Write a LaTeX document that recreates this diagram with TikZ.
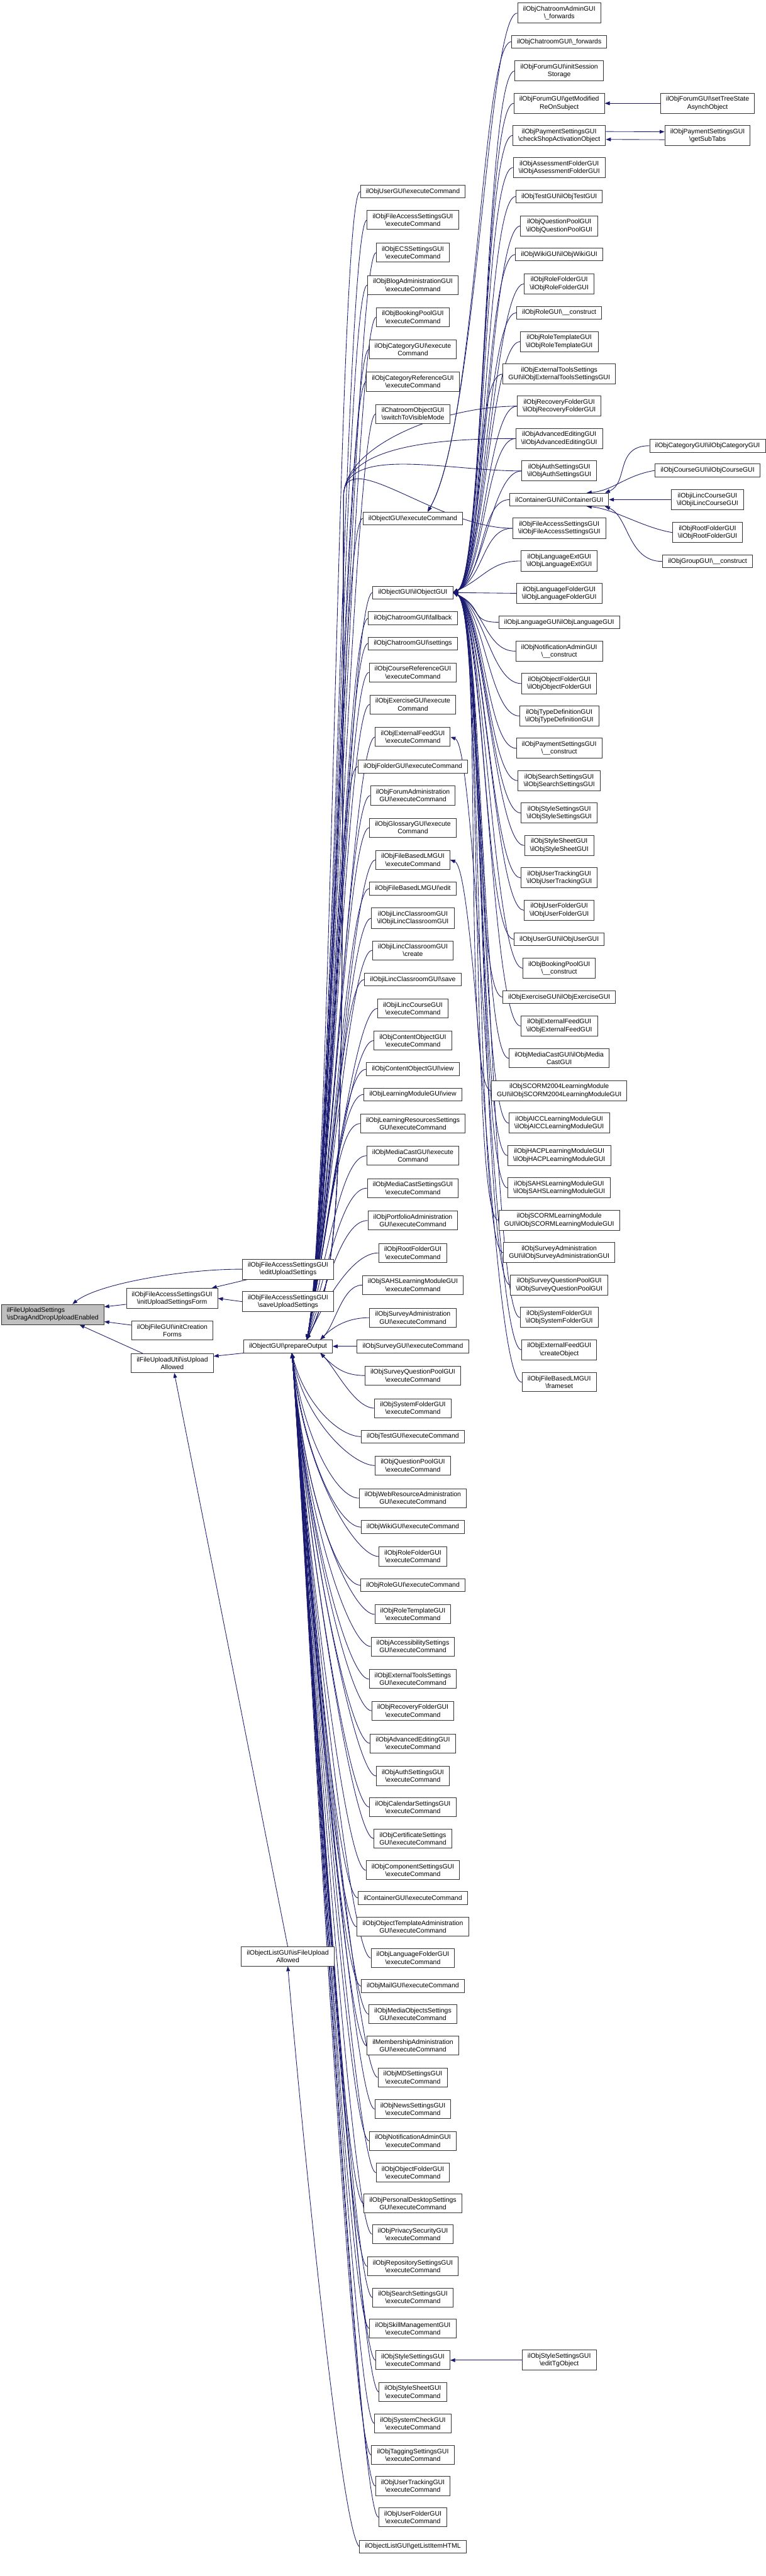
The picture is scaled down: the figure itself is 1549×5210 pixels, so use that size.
\documentclass[tikz,border=0pt]{standalone}
\usepackage{fontspec}
\setmainfont{Liberation Sans}
\usetikzlibrary{arrows.meta,calc}
\definecolor{eblue}{HTML}{191970}
\newcommand\BS{\textbackslash}
\newcommand\NN[4]{\node[nd] (#1) at (#2,-#3) {#4};}
\pgfdeclarelayer{bg}
\pgfsetlayers{bg,main}
\begin{document}
\begin{tikzpicture}[x=1pt,y=1pt,
  nd/.style={draw=black!80, fill=white, line width=1.2pt, align=center,
    font=\fontsize{13.3}{15.5}\selectfont, inner xsep=11pt, inner ysep=6.5pt, minimum height=26pt},
  tgt/.style={nd, fill=black!25, align=left},
  edge/.style={draw=eblue, line width=1.1pt, -{Triangle[length=10pt,width=7.5pt]}}]
\useasboundingbox (0,0) rectangle (1549,-5210);
% column 1
\node[tgt] (dd) at (106.5,-2658.5) {ilFileUploadSettings\\\BS isDragAndDropUploadEnabled};
% column 2
\NN{iu}{348}{2626}{ilObjFileAccessSettingsGUI\\\BS initUploadSettingsForm}
\NN{ic}{348.5}{2691}{ilObjFileGUI\BS initCreation\\Forms}
\NN{ua}{348.5}{2757}{ilFileUploadUtil\BS isUpload\\Allowed}
% column 3
\NN{eu}{582.5}{2567}{ilObjFileAccessSettingsGUI\\\BS editUploadSettings}
\NN{su}{582.5}{2632.5}{ilObjFileAccessSettingsGUI\\\BS saveUploadSettings}
\NN{po}{582.5}{2723}{ilObjectGUI\BS prepareOutput}
\NN{lf}{582}{3957}{ilObjectListGUI\BS isFileUpload\\Allowed}
% column 4
\NN{a01}{835}{387.5}{ilObjUserGUI\BS executeCommand}
\NN{a02}{835}{445}{ilObjFileAccessSettingsGUI\\\BS executeCommand}
\NN{a03}{835}{511}{ilObjECSSettingsGUI\\\BS executeCommand}
\NN{a04}{835}{576.5}{ilObjBlogAdministrationGUI\\\BS executeCommand}
\NN{a05}{835}{641.5}{ilObjBookingPoolGUI\\\BS executeCommand}
\NN{a06}{835}{706.5}{ilObjCategoryGUI\BS execute\\Command}
\NN{a07}{835}{772}{ilObjCategoryReferenceGUI\\\BS executeCommand}
\NN{a08}{835}{837}{ilChatroomObjectGUI\\\BS switchToVisibleMode}
\NN{a09}{835}{1048.5}{ilObjectGUI\BS executeCommand}
\NN{a10}{835}{1198.5}{ilObjectGUI\BS ilObjectGUI}
\NN{a11}{835}{1250.5}{ilObjChatroomGUI\BS fallback}
\NN{a12}{835}{1301.5}{ilObjChatroomGUI\BS settings}
\NN{a13}{835}{1360}{ilObjCourseReferenceGUI\\\BS executeCommand}
\NN{a14}{835}{1425}{ilObjExerciseGUI\BS execute\\Command}
\NN{a15}{835}{1490.5}{ilObjExternalFeedGUI\\\BS executeCommand}
\NN{a16}{835}{1550.5}{ilObjFolderGUI\BS executeCommand}
\NN{a17}{835}{1609}{ilObjForumAdministration\\GUI\BS executeCommand}
\NN{a18}{835}{1674}{ilObjGlossaryGUI\BS execute\\Command}
\NN{a19}{835}{1739}{ilObjFileBasedLMGUI\\\BS executeCommand}
\NN{a20}{835}{1797}{ilObjFileBasedLMGUI\BS edit}
\NN{a21}{835}{1857}{ilObjiLincClassroomGUI\\\BS ilObjiLincClassroomGUI}
\NN{a22}{835}{1922}{ilObjiLincClassroomGUI\\\BS create}
\NN{a23}{835}{1981}{ilObjiLincClassroomGUI\BS save}
\NN{a24}{835}{2039.5}{ilObjiLincCourseGUI\\\BS executeCommand}
\NN{a25}{835}{2104.5}{ilObjContentObjectGUI\\\BS executeCommand}
\NN{a26}{835}{2162.5}{ilObjContentObjectGUI\BS view}
\NN{a27}{835}{2213.5}{ilObjLearningModuleGUI\BS view}
\NN{a28}{835}{2272.5}{ilObjLearningResourcesSettings\\GUI\BS executeCommand}
\NN{a29}{835}{2337.5}{ilObjMediaCastGUI\BS execute\\Command}
\NN{a30}{835}{2403}{ilObjMediaCastSettingsGUI\\\BS executeCommand}
\NN{a31}{835}{2468.5}{ilObjPortfolioAdministration\\GUI\BS executeCommand}
\NN{a32}{835}{2534}{ilObjRootFolderGUI\\\BS executeCommand}
\NN{a33}{835}{2599}{ilObjSAHSLearningModuleGUI\\\BS executeCommand}
\NN{a34}{835}{2665}{ilObjSurveyAdministration\\GUI\BS executeCommand}
\NN{a35}{835}{2723}{ilObjSurveyGUI\BS executeCommand}
\NN{a36}{835}{2782}{ilObjSurveyQuestionPoolGUI\\\BS executeCommand}
\NN{a37}{835}{2848}{ilObjSystemFolderGUI\\\BS executeCommand}
\NN{a38}{835}{2905.5}{ilObjTestGUI\BS executeCommand}
\NN{a39}{835}{2964}{ilObjQuestionPoolGUI\\\BS executeCommand}
\NN{a40}{835}{3030}{ilObjWebResourceAdministration\\GUI\BS executeCommand}
\NN{a41}{835}{3088.5}{ilObjWikiGUI\BS executeCommand}
\NN{a42}{835}{3148}{ilObjRoleFolderGUI\\\BS executeCommand}
\NN{a43}{835}{3206}{ilObjRoleGUI\BS executeCommand}
\NN{a44}{835}{3265}{ilObjRoleTemplateGUI\\\BS executeCommand}
\NN{a45}{835}{3330}{ilObjAccessibilitySettings\\GUI\BS executeCommand}
\NN{a46}{835}{3396}{ilObjExternalToolsSettings\\GUI\BS executeCommand}
\NN{a47}{835}{3460}{ilObjRecoveryFolderGUI\\\BS executeCommand}
\NN{a48}{835}{3526}{ilObjAdvancedEditingGUI\\\BS executeCommand}
\NN{a49}{835}{3592}{ilObjAuthSettingsGUI\\\BS executeCommand}
\NN{a50}{835}{3655}{ilObjCalendarSettingsGUI\\\BS executeCommand}
\NN{a51}{835}{3718.5}{ilObjCertificateSettings\\GUI\BS executeCommand}
\NN{a52}{835}{3782.5}{ilObjComponentSettingsGUI\\\BS executeCommand}
\NN{a53}{835}{3838.5}{ilContainerGUI\BS executeCommand}
\NN{a54}{835}{3897}{ilObjObjectTemplateAdministration\\GUI\BS executeCommand}
\NN{a55}{835}{3960}{ilObjLanguageFolderGUI\\\BS executeCommand}
\NN{a56}{835}{4017}{ilObjMailGUI\BS executeCommand}
\NN{a57}{835}{4073.5}{ilObjMediaObjectsSettings\\GUI\BS executeCommand}
\NN{a58}{835}{4137.5}{ilMembershipAdministration\\GUI\BS executeCommand}
\NN{a59}{835}{4201.5}{ilObjMDSettingsGUI\\\BS executeCommand}
\NN{a60}{835}{4265.5}{ilObjNewsSettingsGUI\\\BS executeCommand}
\NN{a61}{835}{4330}{ilObjNotificationAdminGUI\\\BS executeCommand}
\NN{a62}{835}{4394}{ilObjObjectFolderGUI\\\BS executeCommand}
\NN{a63}{835}{4456.5}{ilObjPersonalDesktopSettings\\GUI\BS executeCommand}
\NN{a64}{835}{4518.5}{ilObjPrivacySecurityGUI\\\BS executeCommand}
\NN{a65}{835}{4583.5}{ilObjRepositorySettingsGUI\\\BS executeCommand}
\NN{a66}{835}{4646.5}{ilObjSearchSettingsGUI\\\BS executeCommand}
\NN{a67}{835}{4709.5}{ilObjSkillManagementGUI\\\BS executeCommand}
\NN{a68}{835}{4773.5}{ilObjStyleSettingsGUI\\\BS executeCommand}
\NN{a69}{835}{4837.5}{ilObjStyleSheetGUI\\\BS executeCommand}
\NN{a70}{835}{4901.5}{ilObjSystemCheckGUI\\\BS executeCommand}
\NN{a71}{835}{4965.5}{ilObjTaggingSettingsGUI\\\BS executeCommand}
\NN{a72}{835}{5028}{ilObjUserTrackingGUI\\\BS executeCommand}
\NN{a73}{835}{5091}{ilObjUserFolderGUI\\\BS executeCommand}
\NN{a74}{835}{5150.5}{ilObjectListGUI\BS getListItemHTML}
% column 5
\NN{b01}{1131}{26.5}{ilObjChatroomAdminGUI\\\BS\_forwards}
\NN{b02}{1131}{84.5}{ilObjChatroomGUI\BS\_forwards}
\NN{b03}{1131}{143.5}{ilObjForumGUI\BS initSession\\Storage}
\NN{b04}{1131}{209}{ilObjForumGUI\BS getModified\\ReOnSubject}
\NN{b05}{1131}{274}{ilObjPaymentSettingsGUI\\\BS checkShopActivationObject}
\NN{b06}{1131}{339}{ilObjAssessmentFolderGUI\\\BS ilObjAssessmentFolderGUI}
\NN{b07}{1131}{397.5}{ilObjTestGUI\BS ilObjTestGUI}
\NN{b08}{1131}{457}{ilObjQuestionPoolGUI\\\BS ilObjQuestionPoolGUI}
\NN{b09}{1131}{514.5}{ilObjWikiGUI\BS ilObjWikiGUI}
\NN{b10}{1131}{574}{ilObjRoleFolderGUI\\\BS ilObjRoleFolderGUI}
\NN{b11}{1131}{632.5}{ilObjRoleGUI\BS\_\_construct}
\NN{b12}{1131}{691}{ilObjRoleTemplateGUI\\\BS ilObjRoleTemplateGUI}
\NN{b13}{1131}{756.5}{ilObjExternalToolsSettings\\GUI\BS ilObjExternalToolsSettingsGUI}
\NN{b14}{1131}{821.5}{ilObjRecoveryFolderGUI\\\BS ilObjRecoveryFolderGUI}
\NN{b15}{1131}{887}{ilObjAdvancedEditingGUI\\\BS ilObjAdvancedEditingGUI}
\NN{b16}{1131}{952.5}{ilObjAuthSettingsGUI\\\BS ilObjAuthSettingsGUI}
\NN{b17}{1131}{1010.5}{ilContainerGUI\BS ilContainerGUI}
\NN{b18}{1131}{1068.5}{ilObjFileAccessSettingsGUI\\\BS ilObjFileAccessSettingsGUI}
\NN{b19}{1131}{1134.5}{ilObjLanguageExtGUI\\\BS ilObjLanguageExtGUI}
\NN{b20}{1131}{1200}{ilObjLanguageFolderGUI\\\BS ilObjLanguageFolderGUI}
\NN{b21}{1131}{1258.5}{ilObjLanguageGUI\BS ilObjLanguageGUI}
\NN{b22}{1131}{1317}{ilObjNotificationAdminGUI\\\BS\_\_construct}
\NN{b23}{1131}{1382.5}{ilObjObjectFolderGUI\\\BS ilObjObjectFolderGUI}
\NN{b24}{1131}{1448}{ilObjTypeDefinitionGUI\\\BS ilObjTypeDefinitionGUI}
\NN{b25}{1131}{1513.5}{ilObjPaymentSettingsGUI\\\BS\_\_construct}
\NN{b26}{1131}{1579}{ilObjSearchSettingsGUI\\\BS ilObjSearchSettingsGUI}
\NN{b27}{1131}{1644.5}{ilObjStyleSettingsGUI\\\BS ilObjStyleSettingsGUI}
\NN{b28}{1131}{1710}{ilObjStyleSheetGUI\\\BS ilObjStyleSheetGUI}
\NN{b29}{1131}{1775.5}{ilObjUserTrackingGUI\\\BS ilObjUserTrackingGUI}
\NN{b30}{1131}{1841}{ilObjUserFolderGUI\\\BS ilObjUserFolderGUI}
\NN{b31}{1131}{1899.5}{ilObjUserGUI\BS ilObjUserGUI}
\NN{b32}{1131}{1958}{ilObjBookingPoolGUI\\\BS\_\_construct}
\NN{b33}{1131}{2016.5}{ilObjExerciseGUI\BS ilObjExerciseGUI}
\NN{b34}{1131}{2075}{ilObjExternalFeedGUI\\\BS ilObjExternalFeedGUI}
\NN{b35}{1131}{2140.5}{ilObjMediaCastGUI\BS ilObjMedia\\CastGUI}
\NN{b36}{1131}{2206}{ilObjSCORM2004LearningModule\\GUI\BS ilObjSCORM2004LearningModuleGUI}
\NN{b37}{1131}{2271.5}{ilObjAICCLearningModuleGUI\\\BS ilObjAICCLearningModuleGUI}
\NN{b38}{1131}{2337}{ilObjHACPLearningModuleGUI\\\BS ilObjHACPLearningModuleGUI}
\NN{b39}{1131}{2402.5}{ilObjSAHSLearningModuleGUI\\\BS ilObjSAHSLearningModuleGUI}
\NN{b40}{1131}{2468}{ilObjSCORMLearningModule\\GUI\BS ilObjSCORMLearningModuleGUI}
\NN{b41}{1131}{2533.5}{ilObjSurveyAdministration\\GUI\BS ilObjSurveyAdministrationGUI}
\NN{b42}{1131}{2599}{ilObjSurveyQuestionPoolGUI\\\BS ilObjSurveyQuestionPoolGUI}
\NN{b43}{1131}{2664.5}{ilObjSystemFolderGUI\\\BS ilObjSystemFolderGUI}
\NN{b44}{1131}{2730}{ilObjExternalFeedGUI\\\BS createObject}
\NN{b45}{1131}{2795.5}{ilObjFileBasedLMGUI\\\BS frameset}
\NN{b46}{1131}{4773.5}{ilObjStyleSettingsGUI\\\BS editTgObject}
% column 6
\NN{c1}{1431}{209}{ilObjForumGUI\BS setTreeState\\AsynchObject}
\NN{c2}{1431}{274.5}{ilObjPaymentSettingsGUI\\\BS getSubTabs}
\NN{c3}{1431}{901.5}{ilObjCategoryGUI\BS ilObjCategoryGUI}
\NN{c4}{1431}{951.5}{ilObjCourseGUI\BS ilObjCourseGUI}
\NN{c5}{1431}{1010.5}{ilObjiLincCourseGUI\\\BS ilObjiLincCourseGUI}
\NN{c6}{1431}{1077}{ilObjRootFolderGUI\\\BS ilObjRootFolderGUI}
\NN{c7}{1431}{1135.5}{ilObjGroupGUI\BS\_\_construct}

\coordinate (poT) at ($(po.north)+(38,0)$);
\coordinate (poB) at ($(po.south)+(8,0)$);
\coordinate (poTR) at ($(po.north east)+(-25,0)$);
\coordinate (poBR) at ($(po.south east)+(-25,0)$);
\coordinate (oeT) at ($(a09.north)+(30,0)$);

\begin{pgfonlayer}{bg}
% col2 -> col1
\draw[edge] (eu.west) .. controls (380,-2566) and (200,-2595) .. ($(dd.north)+(40,0)$);
\draw[edge] ($(iu.west)+(0,-12)$) -- ($(dd.east)+(0,15.5)$);
\draw[edge] ($(ic.west)+(0,11)$) -- ($(dd.east)+(0,-14.5)$);
\draw[edge] ($(ua.north west)+(24,0)$) -- ($(dd.south)+(54.5,0)$);
% col3 -> col2
\draw[edge] ($(eu.south west)+(10,0)$) -- ($(iu.north east)+(-12.5,0)$);
\draw[edge] (su.west) -- (iu.east);
\draw[edge] (po.south west) -- ($(ua.east)+(0,14)$);
\draw[edge] (lf.north) -- ($(ua.south)+(4,0)$);
\draw[edge] (a74.west) .. controls (690,-5120) and (610,-4300) .. (lf.south);
% col4 -> prepareOutput
\foreach \nm in {a01,a02,a03,a04,a05,a06,a07,a08,a09,a10,a11,a12,a13,a14,a15,a16,a17,a18,a19,a20,a21,a22,a23,a24,a25,a26,a27,a28,a29,a30,a31,a32}
  \draw[edge] let \p1=(\nm.west), \p2=(poT) in
    (\p1) .. controls (\x1-45pt,\y1) and (\x2+50pt,{\y2+min(260pt,0.6*(\y1-\y2))}) .. (\p2);
\foreach \nm in {a33,a34}
  \draw[edge] (\nm.west) .. controls ($(\nm.west)+(-40,0)$) and ($(poTR)+(30,30)$) .. (poTR);
\draw[edge] (a35.west) -- (po.east);
\foreach \nm in {a36,a37}
  \draw[edge] (\nm.west) .. controls ($(\nm.west)+(-40,0)$) and ($(poBR)+(30,-30)$) .. (poBR);
\foreach \nm in {a38,a39,a40,a41,a42,a43,a44,a45,a46,a47,a48,a49,a50,a51,a52,a53,a54,a55,a56,a57,a58,a59,a60,a61,a62,a63,a64,a65,a66,a67,a68,a69,a70,a71,a72,a73}
  \draw[edge] let \p1=(\nm.west), \p2=(poB) in
    (\p1) .. controls (\x1-45pt,\y1) and (\x2+25pt,{\y2-min(320pt,0.6*(\y2-\y1))}) .. (\p2);
% col5 -> ilObjectGUI::executeCommand
\foreach \nm in {b01,b02}
  \draw[edge] (\nm.west) .. controls ($(\nm.west)+(-60,0)$) and ($(oeT)+(100,173)$) .. (oeT);
% col5 -> ilObjectGUI::ilObjectGUI
\foreach \nm in {b03,b04,b05,b06,b07,b08,b09,b10,b11,b12,b13,b14,b15,b16,b17,b18,b19}
  \draw[edge] (\nm.west) .. controls ($(\nm.west)+(-60,0)$) and ($(a10.east)+(63,30)$) .. (a10.east);
\draw[edge] (b20.west) -- (a10.east);
\foreach \nm in {b21,b22,b23,b24,b25,b26,b27,b28,b29,b30,b31,b32,b33,b34,b35,b36,b37,b38,b39,b40,b41,b42,b43}
  \draw[edge] (\nm.west) .. controls ($(\nm.west)+(-60,0)$) and ($(a10.east)+(63,-30)$) .. (a10.east);
% col5 -> prepareOutput (long)
\foreach \nm in {b14,b15,b16,b18}
  \draw[edge] (\nm.west) .. controls ($(\nm.west)+(-150,0)$) and (700,-900) .. (695,-1000) .. controls (690,-2300) and (700,-2550) .. (poT);
% others
\draw[edge] (b44.west) .. controls ($(b44.west)+(-60,0)$) and ($(a15.east)+(56,-20)$) .. (a15.east);
\draw[edge] (b45.west) .. controls ($(b45.west)+(-60,0)$) and ($(a19.east)+(56,-20)$) .. (a19.east);
\draw[edge] (b46.west) -- (a68.east);
\draw[edge] (c1.west) -- (b04.east);
\draw[edge] ($(b05.east)+(0,8)$) -- ($(c2.west)+(0,8)$);
\draw[edge] ($(c2.west)+(0,-8)$) -- ($(b05.east)+(0,-8)$);
\draw[edge] (c3.west) .. controls ($(c3.west)+(-70,0)$) and ($(b17.north east)+(40,20)$) .. ($(b17.north east)+(-8,0)$);
\draw[edge] (c4.west) .. controls ($(c4.west)+(-60,-10)$) and ($(b17.north east)+(10,5)$) .. ($(b17.north east)+(-45,0)$);
\draw[edge] (c5.west) -- (b17.east);
\draw[edge] (c6.west) .. controls ($(c6.west)+(-60,10)$) and ($(b17.south east)+(10,-5)$) .. ($(b17.south east)+(-45,0)$);
\draw[edge] (c7.west) .. controls ($(c7.west)+(-70,0)$) and ($(b17.south east)+(40,-20)$) .. ($(b17.south east)+(-8,0)$);
\end{pgfonlayer}
\end{tikzpicture}
\end{document}
